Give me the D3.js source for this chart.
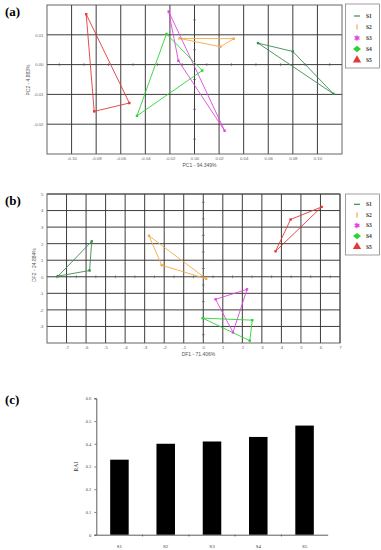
<!DOCTYPE html>
<html>
<head>
<meta charset="utf-8">
<script src="https://cdn.jsdelivr.net/npm/d3@7"></script>
<style>
  body { margin: 0; background: #fff; }
  svg { display: block; }
</style>
</head>
<body>
<script>
const width = 381;
const height = 550;

const groups = ["S1", "S2", "S3", "S4", "S5"];
const groupColors = ["#3c8c50", "#f2a94a", "#dc48dc", "#2fd236", "#e03a3a"];

// panel (a) PCA scores, one triangle per group
const pcaPoints = [
    [[0.0517, 0.0072], [0.080, 0.0044], [0.113, -0.0098]],
    [[-0.0122, 0.0088], [0.032, 0.0087], [0.021, 0.0060]],
    [[-0.021, 0.0178], [-0.0131, 0.0013], [0.0245, -0.0222]],
    [[-0.0228, 0.0103], [0.0063, -0.0020], [-0.0468, -0.0172]],
    [[-0.0881, 0.0169], [-0.053, -0.0129], [-0.0816, -0.0157]]
];
const pcaXTicks = [-0.10, -0.08, -0.06, -0.04, -0.02, 0.00, 0.02, 0.04, 0.06, 0.08, 0.10];
const pcaYTicks = [0.01, 0.00, -0.01, -0.02];

// panel (b) discriminant function scores
const dfPoints = [
    [[-7.43, 0.04], [-5.82, 0.38], [-5.71, 2.14]],
    [[-2.78, 2.48], [-2.13, 0.70], [0.15, -0.12]],
    [[0.63, -1.36], [2.24, -0.76], [1.52, -3.36]],
    [[-0.03, -2.50], [2.51, -2.62], [2.38, -3.86]],
    [[6.06, 4.22], [4.47, 3.46], [3.70, 1.54]]
];
const dfXTicks = [-7, -6, -5, -4, -3, -2, -1, 0, 1, 2, 3, 4, 5, 6, 7];
const dfYTicks = [5, 4, 3, 2, 1, 0, -1, -2, -3];

// panel (c) RAI per group
const raiValues = [0.33, 0.40, 0.41, 0.43, 0.48];
const raiTicks = [0, 0.1, 0.2, 0.3, 0.4, 0.5, 0.6];

const svg = d3.select("body").append("svg")
    .attr("width", width)
    .attr("height", height)
    .attr("viewBox", [0, 0, width, height]);

svg.append("rect").attr("width", width).attr("height", height).attr("fill", "#fff");

const sans = "'Liberation Sans', Arial, sans-serif";
const serif = "'Liberation Serif', 'Times New Roman', serif";

// plain hyphen for negatives, like the original export
const hy = f => d => f(d).replace("\u2212", "-");

function panelLabel(text, y) {
    svg.append("text")
        .attr("x", 5)
        .attr("y", y)
        .attr("font-family", serif)
        .attr("font-weight", "bold")
        .attr("font-size", 13)
        .text(text);
}

function drawScatter(cfg) {
    const x = d3.scaleLinear(cfg.xDomain, [cfg.left, cfg.right]);
    const y = d3.scaleLinear(cfg.yDomain, [cfg.bottom, cfg.top]);
    const g = svg.append("g");

    // grid
    g.append("g")
        .selectAll("line.v")
        .data(cfg.xTicks)
        .join("line")
        .attr("x1", d => x(d)).attr("x2", d => x(d))
        .attr("y1", cfg.top).attr("y2", cfg.bottom)
        .attr("stroke", "#333").attr("stroke-width", 0.95);
    g.append("g")
        .selectAll("line.h")
        .data(cfg.yTicks)
        .join("line")
        .attr("y1", d => y(d)).attr("y2", d => y(d))
        .attr("x1", cfg.left).attr("x2", cfg.right)
        .attr("stroke", "#333").attr("stroke-width", 0.95);

    // minor ticks along the zero axes
    g.append("g")
        .selectAll("line")
        .data(cfg.xMinor)
        .join("line")
        .attr("x1", d => x(d)).attr("x2", d => x(d))
        .attr("y1", y(0) - 1.5).attr("y2", y(0) + 1.5)
        .attr("stroke", "#555").attr("stroke-width", 0.6);
    g.append("g")
        .selectAll("line")
        .data(cfg.yMinor)
        .join("line")
        .attr("y1", d => y(d)).attr("y2", d => y(d))
        .attr("x1", x(0) - 1.5).attr("x2", x(0) + 1.5)
        .attr("stroke", "#555").attr("stroke-width", 0.6);

    // frame
    g.append("rect")
        .attr("x", cfg.left).attr("y", cfg.top)
        .attr("width", cfg.right - cfg.left).attr("height", cfg.bottom - cfg.top)
        .attr("fill", "none").attr("stroke", "#555").attr("stroke-width", 0.9);

    // tick labels
    g.append("g")
        .call(d3.axisBottom(x).tickValues(cfg.xTicks).tickSize(0).tickPadding(0).tickFormat(cfg.xFormat))
        .attr("transform", `translate(0,${cfg.bottom + 3})`)
        .call(a => a.select(".domain").remove())
        .selectAll("text")
        .attr("font-family", sans).attr("font-size", 4.3).attr("fill", "#666");
    g.append("g")
        .call(d3.axisLeft(y).tickValues(cfg.yLabelTicks).tickSize(0).tickPadding(0).tickFormat(cfg.yFormat))
        .attr("transform", `translate(${cfg.left - 3.5},0)`)
        .call(a => a.select(".domain").remove())
        .selectAll("text")
        .attr("font-family", sans).attr("font-size", 4.3).attr("fill", "#666");

    g.append("text")
        .attr("x", (cfg.left + cfg.right) / 2 + 5)
        .attr("y", cfg.bottom + 13)
        .attr("text-anchor", "middle")
        .attr("font-family", sans).attr("font-size", 5).attr("fill", "#555")
        .text(cfg.xLabel);
    g.append("text")
        .attr("transform", `translate(${cfg.yLabelX},${cfg.yLabelY}) rotate(-90)`)
        .attr("text-anchor", "middle")
        .attr("font-family", sans).attr("font-size", 5).attr("fill", "#555")
        .text(cfg.yLabel);

    // triangles
    const line = d3.line().x(d => x(d[0])).y(d => y(d[1]));
    g.append("g")
        .selectAll("path")
        .data(cfg.points)
        .join("path")
        .attr("d", d => line(d) + "Z")
        .attr("fill", "none")
        .attr("stroke", (d, i) => groupColors[i])
        .attr("stroke-width", 0.9);
    g.append("g")
        .selectAll("g")
        .data(cfg.points)
        .join("g")
        .attr("fill", (d, i) => groupColors[i])
        .selectAll("rect")
        .data(d => d)
        .join("rect")
        .attr("x", d => x(d[0]) - 1.2)
        .attr("y", d => y(d[1]) - 1.2)
        .attr("width", 2.4)
        .attr("height", 2.4);

    // legend
    const lg = g.append("g");
    lg.append("rect")
        .attr("x", 345.5).attr("y", cfg.legendTop)
        .attr("width", 34).attr("height", cfg.legendH)
        .attr("fill", "#fff").attr("stroke", "#888").attr("stroke-width", 0.8);
    const items = lg.selectAll("g")
        .data(groups)
        .join("g")
        .attr("transform", (d, i) => `translate(357,${cfg.legendTop + cfg.legendFirst + i * cfg.legendStep})`);
    items.each(function (d, i) {
        const it = d3.select(this);
        const c = groupColors[i];
        if (i === 0) {
            it.append("line").attr("x1", -3).attr("x2", 3).attr("stroke", c).attr("stroke-width", 1.2);
        } else if (i === 1) {
            it.append("line").attr("y1", -2.5).attr("y2", 2.5).attr("stroke", c).attr("stroke-width", 1.2);
        } else if (i === 2) {
            it.append("path").attr("d", d3.symbol(d3.symbolAsterisk, 22)())
                .attr("stroke", c).attr("stroke-width", 1.1).attr("fill", "none");
            it.append("path").attr("d", d3.symbol(d3.symbolTriangle, 10)())
                .attr("transform", "rotate(90)").attr("fill", c);
        } else if (i === 3) {
            it.append("path").attr("d", "M-4,0L0,-3.2L4,0L0,3.2Z").attr("fill", c);
        } else {
            it.append("path").attr("d", d3.symbol(d3.symbolTriangle, 30)()).attr("fill", c);
        }
    });
    items.append("text")
        .attr("x", 9)
        .attr("dy", "0.35em")
        .attr("font-family", serif).attr("font-weight", "bold").attr("font-size", 5.5)
        .attr("fill", "#333")
        .text(d => d);
}

panelLabel("(a)", 16);
drawScatter({
    xDomain: [-0.12, 0.12], yDomain: [-0.03, 0.02],
    left: 47, right: 342, top: 5, bottom: 154,
    xTicks: pcaXTicks, yTicks: pcaYTicks, yLabelTicks: pcaYTicks,
    xMinor: [-0.11, -0.09, -0.07, -0.05, -0.03, -0.01, 0.01, 0.03, 0.05, 0.07, 0.09, 0.11],
    yMinor: [0.015, 0.005, -0.005, -0.015, -0.025],
    xFormat: hy(d3.format(".2f")), yFormat: hy(d3.format(".2f")),
    xLabel: "PC1 - 94.349%", yLabel: "PC2 - 4.883%",
    yLabelX: 30, yLabelY: 80,
    points: pcaPoints,
    legendTop: 4, legendH: 64, legendFirst: 12, legendStep: 11
});

panelLabel("(b)", 205);
drawScatter({
    xDomain: [-8, 7], yDomain: [-4, 5],
    left: 47, right: 340, top: 194, bottom: 343,
    xTicks: dfXTicks, yTicks: dfYTicks, yLabelTicks: dfYTicks,
    xMinor: d3.range(-7.5, 7, 1), yMinor: d3.range(-3.5, 5, 1),
    xFormat: hy(d3.format("d")), yFormat: hy(d3.format("d")),
    xLabel: "DF1 - 71.406%", yLabel: "DF2 - 24.884%",
    yLabelX: 36, yLabelY: 265,
    points: dfPoints,
    legendTop: 194, legendH: 61, legendFirst: 10.3, legendStep: 10.6
});

// panel (c)
panelLabel("(c)", 404);
const xBand = d3.scaleBand(groups, [96.3, 327.7]).paddingInner(0.6).paddingOuter(0.3);
const yRai = d3.scaleLinear([0, 0.6], [534.7, 398.3]);
const gc = svg.append("g");

gc.append("g")
    .attr("transform", "translate(96.3,0)")
    .call(d3.axisLeft(yRai).tickValues(raiTicks).tickSize(2).tickPadding(3)
        .tickFormat(d => d === 0 ? "0" : d3.format(".1f")(d)))
    .call(a => a.select(".domain").attr("stroke", "#333").attr("stroke-width", 0.8))
    .call(a => a.selectAll("line").attr("stroke", "#333").attr("stroke-width", 0.6))
    .selectAll("text")
    .attr("font-family", serif).attr("font-size", 4.5).attr("fill", "#444");

gc.append("g")
    .attr("transform", "translate(0,534.7)")
    .call(d3.axisBottom(xBand).tickSize(0).tickPadding(10))
    .call(a => a.select(".domain").attr("stroke", "#333").attr("stroke-width", 0.8))
    .selectAll("text")
    .attr("font-family", serif).attr("font-size", 5).attr("fill", "#333");

gc.append("g")
    .selectAll("line")
    .data(groups.slice(1))
    .join("line")
    .attr("x1", d => xBand(d) - xBand.step() * 0.3)
    .attr("x2", d => xBand(d) - xBand.step() * 0.3)
    .attr("y1", 534.7).attr("y2", 536.5)
    .attr("stroke", "#333").attr("stroke-width", 0.6);

gc.append("g")
    .selectAll("rect")
    .data(raiValues)
    .join("rect")
    .attr("x", (d, i) => xBand(groups[i]))
    .attr("y", d => yRai(d))
    .attr("width", xBand.bandwidth())
    .attr("height", d => yRai(0) - yRai(d))
    .attr("fill", "#000");

gc.append("text")
    .attr("transform", "translate(78,466.7) rotate(-90)")
    .attr("text-anchor", "middle")
    .attr("font-family", serif).attr("font-size", 5.5).attr("fill", "#333")
    .text("RAI");
</script>
</body>
</html>
